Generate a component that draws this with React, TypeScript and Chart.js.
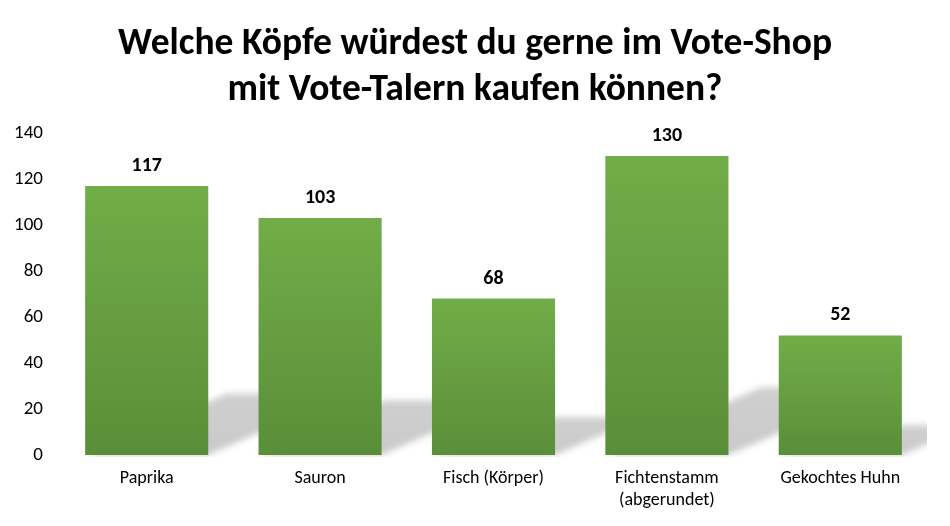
import React, { useEffect, useRef } from "react";
import { Chart, registerables } from "chart.js";

Chart.register(...registerables);

const categories: (string | string[])[] = [
  "Paprika",
  "Sauron",
  "Fisch (Körper)",
  ["Fichtenstamm", "(abgerundet)"],
  "Gekochtes Huhn",
];
const votes = [117, 103, 68, 130, 52];
const titleLines = ["Welche Köpfe würdest du gerne im Vote-Shop", "mit Vote-Talern kaufen können?"];
const yMin = 0;
const yMax = 140;
const yStep = 20;

const FONT = "Carlito, Lato, 'Open Sans', sans-serif";

const shadowPlugin = {
  id: "barShadow",
  beforeDatasetsDraw(chart: any) {
    const { ctx, chartArea } = chart;
    const meta = chart.getDatasetMeta(0);
    ctx.save();
    ctx.beginPath();
    ctx.rect(chartArea.left, chartArea.top, chartArea.right - chartArea.left, chartArea.bottom - chartArea.top + 2);
    ctx.clip();
    ctx.filter = "blur(3px)";
    meta.data.forEach((bar: any) => {
      const { x, y, base, width } = bar.getProps(["x", "y", "base", "width"], true);
      const h = base - y;
      const dy = h * 0.21 + 5;
      const dx = dy * 2.3;
      const l = x - width / 2;
      const r = x + width / 2;
      const g = ctx.createLinearGradient(0, base - dy, 0, base);
      g.addColorStop(0, "rgba(202,202,202,0.9)");
      g.addColorStop(1, "rgba(202,202,202,1)");
      ctx.fillStyle = g;
      ctx.beginPath();
      ctx.moveTo(l, base);
      ctx.lineTo(r, base);
      ctx.lineTo(r + dx, base - dy);
      ctx.lineTo(l + dx, base - dy);
      ctx.closePath();
      ctx.fill();
    });
    ctx.restore();
  },
};

const labelPlugin = {
  id: "valueLabels",
  afterDatasetsDraw(chart: any) {
    const { ctx } = chart;
    const meta = chart.getDatasetMeta(0);
    ctx.save();
    ctx.font = `bold 20px ${FONT}`;
    ctx.fillStyle = "#000000";
    ctx.textAlign = "center";
    ctx.textBaseline = "middle";
    meta.data.forEach((bar: any, i: number) => {
      ctx.fillText(String(votes[i]), bar.x, bar.y - 20);
    });
    ctx.restore();
  },
};

export default function App() {
  const ref = useRef<HTMLCanvasElement>(null);
  useEffect(() => {
    if (!ref.current) return;
    const chart = new Chart(ref.current, {
      type: "bar",
      data: {
        labels: categories,
        datasets: [
          {
            data: votes,
            backgroundColor: (c: any) => {
              const ch = c.chart;
              const ys = ch.scales.y;
              if (!ys || c.dataIndex === undefined) return "#66A043";
              const top = ys.getPixelForValue(votes[c.dataIndex]);
              const base = ys.getPixelForValue(0);
              if (!isFinite(top) || !isFinite(base)) return "#66A043";
              const g = ch.ctx.createLinearGradient(0, top, 0, base);
              g.addColorStop(0, "#71AD48");
              g.addColorStop(1, "#5A8E39");
              return g;
            },
            borderWidth: 0,
            barPercentage: 0.71,
            categoryPercentage: 1,
          },
        ],
      },
      options: {
        animation: false,
        responsive: false,
        maintainAspectRatio: false,
        layout: { padding: 0 },
        plugins: {
          legend: { display: false },
          tooltip: { enabled: false },
          title: {
            display: true,
            text: titleLines,
            color: "#000000",
            font: { family: FONT, size: 37.5, weight: "bold", lineHeight: 1.24 },
            padding: { top: 21, bottom: 19 },
          },
        },
        scales: {
          x: {
            grid: { display: false, drawTicks: false },
            border: { display: false },
            ticks: {
              color: "#000000",
              font: { family: FONT, size: 18, lineHeight: 1.22 },
              padding: 13,
              maxRotation: 0,
              autoSkip: false,
            },
            afterFit: (s: any) => {
              s.height = 71;
            },
          },
          y: {
            min: yMin,
            max: yMax,
            grid: { display: false, drawTicks: false },
            border: { display: false },
            ticks: {
              stepSize: yStep,
              color: "#000000",
              font: { family: FONT, size: 19 },
              padding: 17,
            },
            afterFit: (s: any) => {
              s.width = 60;
            },
          },
          yRight: {
            position: "right",
            min: yMin,
            max: yMax,
            grid: { display: false, drawTicks: false },
            border: { display: false },
            ticks: { display: false },
            afterFit: (s: any) => {
              s.width = 23;
            },
          },
        },
      },
      plugins: [shadowPlugin, labelPlugin],
    });
    return () => chart.destroy();
  }, []);
  return (
    <div style={{ position: "absolute", left: 0, top: 0, width: 950, height: 526, background: "#ffffff" }}>
      <canvas ref={ref} width={950} height={526} style={{ display: "block" }} />
    </div>
  );
}
